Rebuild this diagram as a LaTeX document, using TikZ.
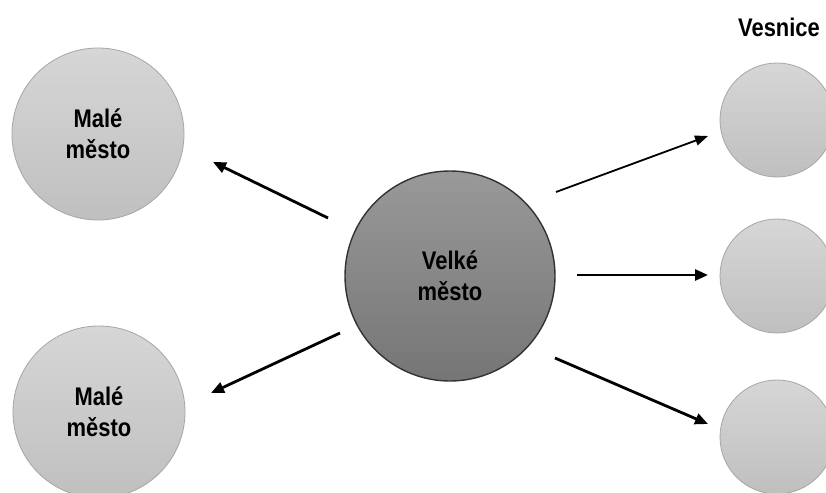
\documentclass[tikz,border=0pt]{standalone}
\usepackage{fontspec}
\setmainfont{Liberation Sans}
\newfontfamily\lblfont[FakeStretch=0.86]{Liberation Sans}
\usetikzlibrary{arrows.meta}
\tikzset{
  lbl/.style={font=\lblfont\bfseries\fontsize{25.5}{31}\selectfont, align=center, text=black},
  smallcity/.style={circle, draw=black!35, line width=0.8pt, top color=black!16, bottom color=black!25, minimum size=172pt, inner sep=0pt, lbl},
  bigcity/.style={circle, draw=black!80, line width=1.4pt, top color=black!40, bottom color=black!54, minimum size=210pt, inner sep=0pt, lbl},
  village/.style={circle, draw=black!35, line width=0.8pt, top color=black!16, bottom color=black!25, minimum size=114pt, inner sep=0pt},
  arr/.style={line width=2.8pt, -{Triangle[length=13pt,width=11pt]}},
  thinarr/.style={line width=1.8pt, -{Triangle[length=13pt,width=10pt]}}
}
\begin{document}
\begin{tikzpicture}[x=1pt,y=-1pt]
\clip (0,0) rectangle (826,492);
\fill[white] (0,0) rectangle (826,492);
\node[smallcity] (m1) at (98,134) {Malé\\město};
\node[smallcity] (m2) at (99,412) {Malé\\město};
\node[bigcity] (v) at (450,276) {Velké\\město};
\node[village] (s1) at (777,120) {};
\node[village] (s2) at (777,276) {};
\node[village] (s3) at (777,437) {};
\node[lbl] (ves) at (779,27) {Vesnice};
\coordinate (a1s) at (328,218); \coordinate (a1e) at (213,162);
\coordinate (a2s) at (340,333); \coordinate (a2e) at (211,393);
\coordinate (a3s) at (556,192); \coordinate (a3e) at (708,136);
\coordinate (a4s) at (577,275); \coordinate (a4e) at (708,275);
\coordinate (a5s) at (555,358); \coordinate (a5e) at (708,424);
\draw[arr] (a1s) -- (a1e);
\draw[arr] (a2s) -- (a2e);
\draw[thinarr] (a3s) -- (a3e);
\draw[arr] (a4s) -- (a4e);
\draw[arr] (a5s) -- (a5e);
\end{tikzpicture}
\end{document}
